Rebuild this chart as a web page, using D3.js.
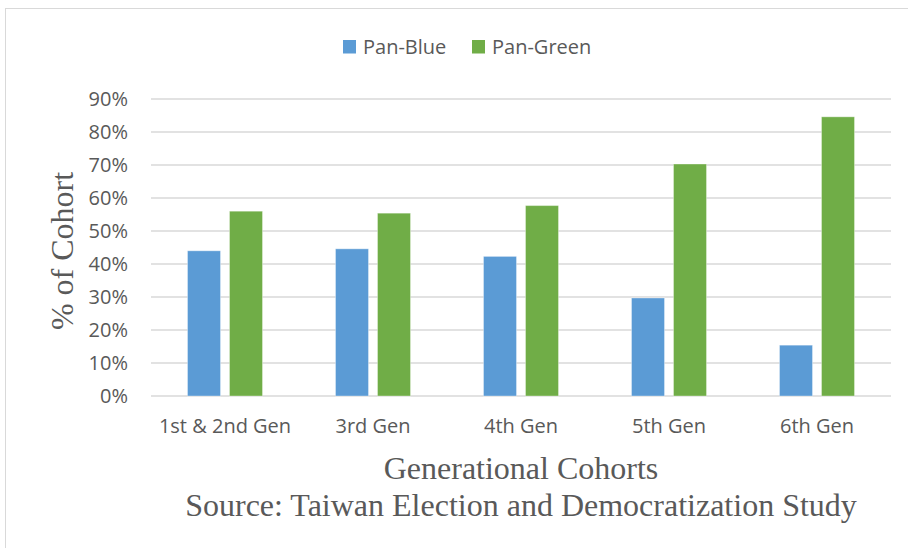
<!DOCTYPE html>
<html>
<head>
<meta charset="utf-8">
<script src="https://cdn.jsdelivr.net/npm/d3@7"></script>
<style>
  body { margin: 0; background: #fff; }
  text { fill: #595959; }
</style>
</head>
<body>
<svg id="chart" width="908" height="548"></svg>
<script>
const cohorts = ["1st & 2nd Gen", "3rd Gen", "4th Gen", "5th Gen", "6th Gen"];
const seriesNames = ["Pan-Blue", "Pan-Green"];
const panBlue = [0.440, 0.446, 0.423, 0.297, 0.154];
const panGreen = [0.560, 0.554, 0.577, 0.703, 0.846];
const yTicks = [0, 0.1, 0.2, 0.3, 0.4, 0.5, 0.6, 0.7, 0.8, 0.9];
const colors = ["#5B9BD5", "#70AD47"];

const svg = d3.select("#chart");
const plotLeft = 151, plotRight = 891, plotTop = 99, plotBottom = 396;
const sans = "'Open Sans', sans-serif";
const serif = "'Liberation Serif', 'Times New Roman', serif";

// outer frame
svg.append("rect")
  .attr("x", 5.5).attr("y", 8.5)
  .attr("width", 920).attr("height", 560)
  .attr("fill", "none").attr("stroke", "#d9d9d9").attr("stroke-width", 1);

const x0 = d3.scaleBand().domain(cohorts).range([plotLeft, plotRight])
  .paddingInner(73/148).paddingOuter(73/148/2);
const x1 = d3.scaleBand().domain(seriesNames).range([0, x0.bandwidth()])
  .paddingInner(9/42);
const y = d3.scaleLinear().domain([0, 0.9]).range([plotBottom, plotTop]);

// grid
svg.append("g").selectAll("line").data(yTicks).enter().append("line")
  .attr("x1", plotLeft).attr("x2", plotRight)
  .attr("y1", d=>y(d)).attr("y2", d=>y(d))
  .attr("stroke", "#d9d9d9").attr("stroke-width", 1.4);

// y axis labels
const yAxis = svg.append("g")
  .attr("transform", `translate(${plotLeft},0)`)
  .call(d3.axisLeft(y).tickValues(yTicks).tickFormat(d3.format(".0%")).tickSize(0).tickPadding(23));
yAxis.select(".domain").remove();
yAxis.selectAll("text")
  .style("font-family", sans).style("font-size", "20px").attr("fill", "#595959");

// x axis labels
const xAxis = svg.append("g")
  .attr("transform", `translate(0,${plotBottom})`)
  .call(d3.axisBottom(x0).tickSize(0).tickPadding(23));
xAxis.select(".domain").remove();
xAxis.selectAll("text")
  .style("font-family", sans).style("font-size", "20px").attr("fill", "#595959");

// bars
const rows = cohorts.map((c,i) => ({cohort: c, values: [panBlue[i], panGreen[i]]}));
const groups = svg.append("g").selectAll("g").data(rows).enter().append("g")
  .attr("transform", d=>`translate(${x0(d.cohort)},0)`);
groups.selectAll("rect").data(d=>d.values.map((v,j)=>({name: seriesNames[j], v: v, j: j})))
  .enter().append("rect")
  .attr("x", d=>x1(d.name))
  .attr("width", x1.bandwidth())
  .attr("y", d=>y(d.v))
  .attr("height", d=>plotBottom - y(d.v))
  .attr("fill", d=>colors[d.j])
  .attr("stroke", "rgba(255,255,255,0.35)").attr("stroke-width", 1);

// legend
const legendX = [343, 472];
const legend = svg.append("g").selectAll("g").data(seriesNames).enter().append("g")
  .attr("transform", (d,i)=>`translate(${legendX[i]},40)`);
legend.append("rect").attr("width", 13).attr("height", 13.5).attr("fill", (d,i)=>colors[i]);
legend.append("text").attr("x", 20).attr("y", 14)
  .style("font-family", sans).style("font-size", "20px")
  .text(d=>d);

// axis titles
svg.append("text")
  .attr("transform", "translate(73,251) rotate(-90)")
  .attr("text-anchor", "middle")
  .style("font-family", serif).style("font-size", "32px")
  .text("% of Cohort");

svg.append("text")
  .attr("x", (plotLeft+plotRight)/2).attr("y", 479)
  .attr("text-anchor", "middle")
  .style("font-family", serif).style("font-size", "32px")
  .text("Generational Cohorts");

svg.append("text")
  .attr("x", (plotLeft+plotRight)/2).attr("y", 516)
  .attr("text-anchor", "middle")
  .style("font-family", serif).style("font-size", "32px")
  .text("Source: Taiwan Election and Democratization Study");
</script>
</body>
</html>
